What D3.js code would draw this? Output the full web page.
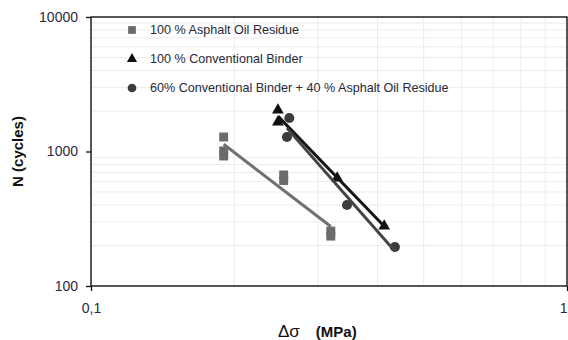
<!DOCTYPE html>
<html>
<head>
<meta charset="utf-8">
<script src="https://cdn.jsdelivr.net/npm/d3@7"></script>
<style>
  html, body { margin: 0; padding: 0; background: #fff; }
  svg { display: block; }
</style>
</head>
<body>
<svg id="chart" width="568" height="340"></svg>
<script>
// Fatigue test results: stress range (MPa) vs number of cycles
const seriesNames = [
  "100 % Asphalt Oil Residue",
  "100 % Conventional Binder",
  "60% Conventional Binder + 40 % Asphalt Oil Residue"
];
const asphaltStress = [0.190, 0.190, 0.190, 0.254, 0.254, 0.319, 0.319];
const asphaltCycles = [1282, 1009, 926, 669, 609, 256, 235];
const conventionalStress = [0.247, 0.247, 0.329, 0.413];
const conventionalCycles = [2035, 1656, 635, 279];
const blendStress = [0.261, 0.258, 0.345, 0.435];
const blendCycles = [1775, 1282, 400, 195];
const xTickValues = [0.1, 1];
const xTickLabels = ["0,1", "1"];
const yTickValues = [100, 1000, 10000];

const svg = d3.select("#chart");
const W = 568, H = 340;
const m = { left: 91, right: 1, top: 17, bottom: 54 };
const pw = W - m.left - m.right, ph = H - m.top - m.bottom;

const x = d3.scaleLog().domain([0.1, 1]).range([m.left, m.left + pw]);
const y = d3.scaleLog().domain([100, 10000]).range([m.top + ph, m.top]);

// Minor log gridlines
const g = svg.append("g");
const xMinor = d3.range(2, 10).map(d => d / 10);
const yMinor = [].concat(d3.range(2, 10).map(d => d * 100), d3.range(2, 10).map(d => d * 1000));
g.selectAll(".vg").data(xMinor).join("line")
  .attr("x1", d => x(d)).attr("x2", d => x(d))
  .attr("y1", m.top).attr("y2", m.top + ph)
  .attr("stroke", "#ececec").attr("stroke-width", 1);
g.selectAll(".hg").data(yMinor).join("line")
  .attr("x1", m.left).attr("x2", m.left + pw)
  .attr("y1", d => y(d)).attr("y2", d => y(d))
  .attr("stroke", "#ececec").attr("stroke-width", 1);

// Axes
const fontFam = "'Liberation Sans', Arial, sans-serif";
const yAxis = d3.axisLeft(y).tickValues(yTickValues).tickFormat(d3.format("d")).tickSize(5).tickPadding(8);
const xAxis = d3.axisBottom(x).tickValues(xTickValues).tickFormat((d, i) => xTickLabels[i]).tickSize(5).tickPadding(12);

const ya = svg.append("g").attr("transform", `translate(${m.left},0)`).call(yAxis);
const xa = svg.append("g").attr("transform", `translate(0,${m.top + ph})`).call(xAxis);
[ya, xa].forEach(a => {
  a.select(".domain").remove();
  a.selectAll("line").attr("stroke", "#111").attr("stroke-width", 1.3);
  a.selectAll("text").attr("fill", "#2a2a40").style("font-family", fontFam).style("font-size", "14px");
});
// keep the last x label inside the right edge
xa.selectAll(".tick text").filter((d, i) => i === xTickValues.length - 1)
  .attr("text-anchor", "end").attr("dx", "0");

// Plot frame
svg.append("rect")
  .attr("x", m.left).attr("y", m.top).attr("width", pw).attr("height", ph)
  .attr("fill", "none").attr("stroke", "#111").attr("stroke-width", 1.4);

// Power-law trend line fitted in log-log space
function trend(xs, ys) {
  const lx = xs.map(Math.log10), ly = ys.map(Math.log10);
  const mx = d3.mean(lx), my = d3.mean(ly);
  const b = d3.sum(lx, (v, i) => (v - mx) * (ly[i] - my)) / d3.sum(lx, v => (v - mx) ** 2);
  const a = my - b * mx;
  const [x0, x1] = d3.extent(xs);
  return [x0, x1].map(v => [v, Math.pow(10, a + b * Math.log10(v))]);
}

const series = [
  { xs: asphaltStress, ys: asphaltCycles, color: "#6b6b6b", line: "#707070", sym: d3.symbolSquare, size: 80 },
  { xs: conventionalStress, ys: conventionalCycles, color: "#111", line: "#151515", sym: d3.symbolTriangle, size: 60 },
  { xs: blendStress, ys: blendCycles, color: "#3c3c3c", line: "#444", sym: d3.symbolCircle, size: 80 }
];

const line = d3.line().x(d => x(d[0])).y(d => y(d[1]));

series.forEach(s => {
  svg.append("g").selectAll("path").data(s.xs.map((v, i) => [v, s.ys[i]])).join("path")
    .attr("transform", d => `translate(${x(d[0])},${y(d[1])})`)
    .attr("d", d3.symbol(s.sym, s.size))
    .attr("fill", s.color);
});
series.forEach(s => {
  svg.append("path").datum(trend(s.xs, s.ys))
    .attr("d", line).attr("fill", "none")
    .attr("stroke", s.line).attr("stroke-width", 3);
});

// Legend
const lg = svg.append("g");
series.forEach((s, i) => {
  const ly = 30 + i * 29;
  lg.append("path").attr("transform", `translate(132,${ly})`)
    .attr("d", d3.symbol(s.sym, i === 1 ? 45 : 60)).attr("fill", s.color);
  lg.append("text").attr("x", 150).attr("y", ly).attr("dy", "0.35em")
    .attr("fill", "#2a2a3a").style("font-family", fontFam).style("font-size", "12.6px")
    .text(seriesNames[i]);
});

// Axis titles
svg.append("text")
  .attr("transform", `translate(18,${m.top + ph / 2}) rotate(-90)`)
  .attr("text-anchor", "middle").attr("dy", "0.35em")
  .style("font-family", fontFam).style("font-size", "15px").style("font-weight", "bold")
  .attr("fill", "#111").text("N (cycles)");

const xt = svg.append("text")
  .attr("x", 278).attr("y", 331).attr("dy", "0.35em").attr("text-anchor", "start")
  .style("font-family", fontFam).style("font-size", "17px").attr("fill", "#111");
xt.append("tspan").text("Δσ");
xt.append("tspan").attr("dx", 16).style("font-weight", "bold").style("font-size", "15px").text("(MPa)");
</script>
</body>
</html>
